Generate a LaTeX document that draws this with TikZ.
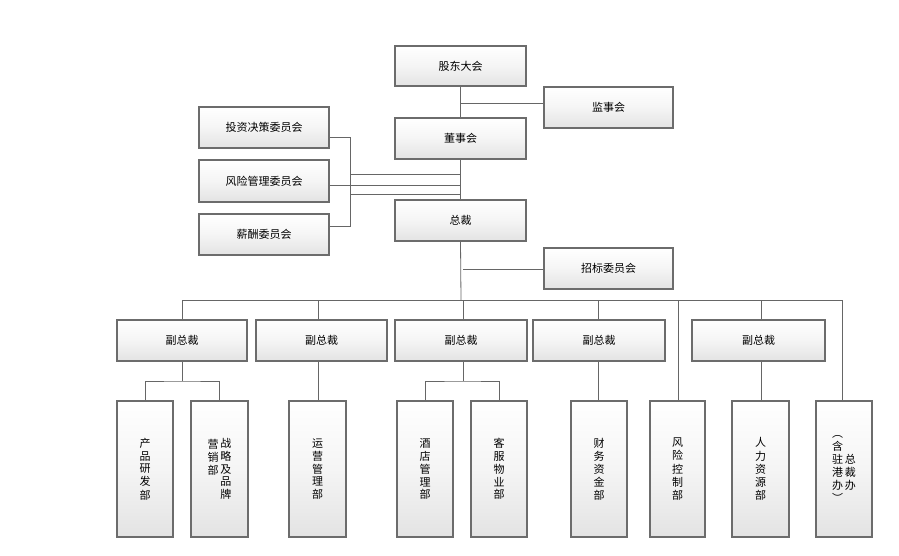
\documentclass[tikz,border=0pt]{standalone}
\usepackage{fontspec}
\setmainfont{Noto Sans CJK SC}
\usetikzlibrary{shadows}
\begin{document}
\begin{tikzpicture}[x=1pt,y=-1pt,
  box/.style={draw=gray!85!black,line width=1.1pt,top color=white,bottom color=gray!22,
    middle color=gray!8,drop shadow={shadow xshift=1pt,shadow yshift=-1pt,opacity=.3},
    inner sep=0pt,font=\fontsize{11}{12}\selectfont},
  ln/.style={draw=gray!80!black,line width=0.8pt}]
\useasboundingbox (0,0) rectangle (899,556);
\newcommand{\bx}[6]{\node[box,minimum width=#4-#2,minimum height=#5-#3] (#1) at ({(#2+#4)/2},{(#3+#5)/2}) {#6};}
\bx{gd}{395}{46}{526}{86}{股东大会}
\bx{js}{544}{87}{673}{128}{监事会}
\bx{ds}{395}{118}{526}{159}{董事会}
\bx{tz}{199}{107}{329}{148}{投资决策委员会}
\bx{fx}{199}{160}{329}{202}{风险管理委员会}
\bx{xc}{199}{214}{329}{255}{薪酬委员会}
\bx{zc}{395}{200}{526}{241}{总裁}
\bx{zb}{544}{248}{673}{289}{招标委员会}
\bx{v1}{117}{320}{247}{361}{副总裁}
\bx{v2}{256}{320}{387}{361}{副总裁}
\bx{v3}{395}{320}{527}{361}{副总裁}
\bx{v4}{533}{320}{665}{361}{副总裁}
\bx{v5}{692}{320}{825}{361}{副总裁}
\newcommand{\vt}[1]{\shortstack{#1}}
\bx{b1}{117}{401}{173}{537}{\vt{产\\品\\研\\发\\部}}
\bx{b2}{191}{401}{248}{537}{\raisebox{4ex}{\vt{营\\销\\部}}\,\vt{战\\略\\及\\品\\牌}}
\bx{b3}{289}{401}{346}{537}{\vt{运\\营\\管\\理\\部}}
\bx{b4}{397}{401}{453}{537}{\vt{酒\\店\\管\\理\\部}}
\bx{b5}{471}{401}{527}{537}{\vt{客\\服\\物\\业\\部}}
\bx{b6}{571}{401}{627}{537}{\vt{财\\务\\资\\金\\部}}
\bx{b7}{650}{401}{705}{537}{\vt{风\\险\\控\\制\\部}}
\bx{b8}{732}{401}{789}{537}{\vt{人\\力\\资\\源\\部}}
\bx{b9}{816}{401}{872}{537}{\vt{︵\\含\\驻\\港\\办\\︶}\,\raisebox{2.2ex}{\vt{总\\裁\\办}}}
% main spine
\coordinate (bus) at (461,300);
\draw[ln] (gd.south) -- (ds.north);
\draw[ln] (ds.south) -- (zc.north);
\draw[ln] (zc.south) -- (bus);
\draw[ln] (461,103) -- (js.west |- 0,103);
\draw[ln] (463,269) -- (zb.west |- 0,269);
% committees
\draw[ln] (tz.east |- 0,137) -- (350,137) -- (350,226) -- (xc.east |- 0,226);
\draw[ln] (350,174) -- (461,174);
\draw[ln] (fx.east |- 0,185) -- (461,185);
\draw[ln] (350,194) -- (461,194);
% bus
\draw[ln] (182,300) -- (842,300);
\foreach \n/\x in {v1/182,v2/318,v3/463,v4/598,v5/761}{\draw[ln] (\x,300) -- (\n.north -| \x,0);}
\draw[ln] (678,300) -- (b7.north -| 678,0);
\draw[ln] (842,300) -- (b9.north -| 842,0);
% sub
\draw[ln] (v1.south -| 182,0) -- (182,381);
\draw[ln] (b1.north -| 145,0) |- (182,381) -| (b2.north -| 219,0);
\draw[ln] (v2.south -| 318,0) -- (b3.north -| 318,0);
\draw[ln] (v3.south -| 463,0) -- (463,381);
\draw[ln] (b4.north -| 425,0) |- (463,381) -| (b5.north -| 499,0);
\draw[ln] (v4.south -| 598,0) -- (b6.north -| 598,0);
\draw[ln] (v5.south -| 761,0) -- (b8.north -| 761,0);
\end{tikzpicture}
\end{document}
